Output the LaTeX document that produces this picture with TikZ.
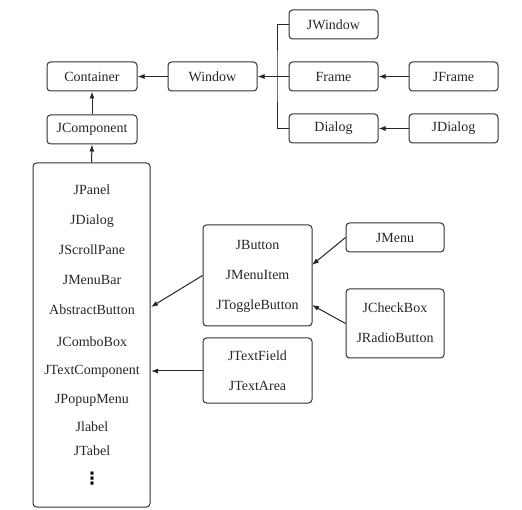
\documentclass[tikz,border=0pt]{standalone}
\usepackage{fontspec}
\setmainfont{Liberation Serif}
\newfontfamily\symfnt{DejaVu Sans}
\usetikzlibrary{arrows.meta}
\begin{document}
\begin{tikzpicture}[x=1pt,y=-1pt,
  box/.style={draw=black!80, rounded corners=3.5pt, line width=1pt, minimum width=89pt, minimum height=29pt, inner sep=0pt, text=black!85, font=\fontsize{14}{16}\selectfont},
  item/.style={inner sep=0pt, text=black!85, font=\fontsize{14}{16}\selectfont},
  conn/.style={line width=1pt, draw=black!85, -{Latex[length=7pt,width=5pt]}},
  plain/.style={line width=1pt, draw=black!85}]
\useasboundingbox (0,0) rectangle (522,510);
% top row
\node[box, minimum width=90pt] (container) at (92,76.5) {Container};
\node[box] (window) at (212.5,76.5) {Window};
\node[box] (jwindow) at (333.5,24.5) {JWindow};
\node[box] (frame) at (333.5,76.5) {Frame};
\node[box] (jframe) at (453.5,76.5) {JFrame};
\node[box] (dialog) at (333.5,128.5) {Dialog};
\node[box] (jdialog) at (453.5,128.5) {JDialog};
\node[box, minimum width=90pt] (jcomponent) at (92,129.5) {JComponent};
% big box
\node[box, minimum width=117pt, minimum height=344pt] (big) at (91.5,335) {};
\node[item] (jpanel) at (92,190) {JPanel};
\node[item] (jdialog2) at (92,221) {JDialog};
\node[item] (jscroll) at (92,250) {JScrollPane};
\node[item] (jmenubar) at (92,280) {JMenuBar};
\node[item] (abstract) at (92,310) {AbstractButton};
\node[item] (jcombo) at (92,342) {JComboBox};
\node[item] (jtextcomp) at (92,371) {JTextComponent};
\node[item] (jpopup) at (92,400) {JPopupMenu};
\node[item] (jlabel) at (92,427) {Jlabel};
\node[item] (jtabel) at (92,451) {JTabel};
\node[item, font=\symfnt\bfseries\fontsize{17}{19}\selectfont, text=black] (dots) at (92,479) {⋮};
% button group
\node[box, minimum width=109pt, minimum height=101pt] (btnbox) at (257.5,275.5) {};
\node[item] (jbutton) at (257.5,245) {JButton};
\node[item] (jmenuitem) at (257.5,275) {JMenuItem};
\node[item] (jtoggle) at (257.5,306) {JToggleButton};
\node[box, minimum width=98pt] (jmenu) at (395,237.5) {JMenu};
\node[box, minimum width=98pt, minimum height=69pt] (checkbox) at (395,323.5) {};
\node[item] (jcheck) at (395,308) {JCheckBox};
\node[item] (jradio) at (395,338) {JRadioButton};
% text group
\node[box, minimum width=109pt, minimum height=65pt] (textbox) at (257.5,370.5) {};
\node[item] (jtextfield) at (257.5,356) {JTextField};
\node[item] (jtextarea) at (257.5,386) {JTextArea};
% connectors
\draw[conn] (window.west) -- (container.east);
\draw[conn] (frame.west) -- (window.east);
\coordinate (trunk) at (277,76.5);
\draw[plain] (jwindow.west) -| (trunk) |- (dialog.west);
\draw[conn] (jframe.west) -- (frame.east);
\draw[conn] (jdialog.west) -- (dialog.east);
\draw[conn] (jcomponent.north) -- (container.south);
\draw[conn] (big.north) -- (jcomponent.south);
\coordinate (abend) at (151,307);
\draw[conn] (btnbox.west) -- (abend);
\coordinate (tcend) at (151,371);
\draw[conn] (textbox.west |- tcend) -- (tcend);
\coordinate (menuend) at (312,265);
\draw[conn] (jmenu.west) -- (menuend);
\coordinate (checkend) at (312,305);
\draw[conn] (checkbox.west) -- (checkend);
\end{tikzpicture}
\end{document}
